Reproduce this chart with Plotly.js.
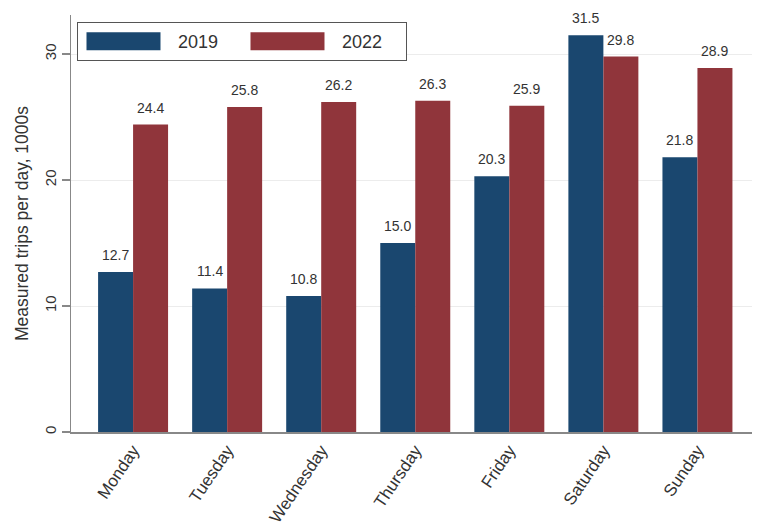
<!DOCTYPE html>
<html>
<head>
<meta charset="utf-8">
<script src="https://cdn.plot.ly/plotly-3.0.1.min.js"></script>
<style>html,body{margin:0;padding:0;background:#fff;}#chart{width:757px;height:529px;}</style>
</head>
<body>
<div id="chart"></div>
<script>
const days = ["Monday", "Tuesday", "Wednesday", "Thursday", "Friday", "Saturday", "Sunday"];
const trips2019 = [12.7, 11.4, 10.8, 15.0, 20.3, 31.5, 21.8];
const trips2022 = [24.4, 25.8, 26.2, 26.3, 25.9, 29.8, 28.9];
const seriesNames = ["2019", "2022"];
const yTicks = [0, 10, 20, 30];

const FONT = '"Liberation Sans", Arial, sans-serif';
const BLUE = '#1a476f';
const RED = '#90353b';

const traces = [
  {type: 'bar', name: seriesNames[0], x: days, y: trips2019, marker: {color: BLUE, line: {width: 0}}},
  {type: 'bar', name: seriesNames[1], x: days, y: trips2022, marker: {color: RED, line: {width: 0}}}
];

const annotations = [];
[[trips2019, -17.5], [trips2022, 17.5]].forEach(([vals, dx]) => {
  vals.forEach((v, i) => {
    annotations.push({
      x: days[i], y: v, xref: 'x', yref: 'y', text: v.toFixed(1), showarrow: false,
      xshift: dx, yshift: 17, yanchor: 'middle',
      font: {family: FONT, size: 14, color: '#333'}
    });
  });
});

const layout = {
  width: 757, height: 529,
  margin: {l: 71, r: 5, t: 15, b: 97, pad: 0},
  paper_bgcolor: '#fff', plot_bgcolor: '#fff',
  font: {family: FONT, color: '#333'},
  barmode: 'group', bargap: 0.256, bargroupgap: 0,
  xaxis: {
    type: 'category', range: [-0.66, 6.58], tickangle: -56, automargin: false,
    showline: true, linecolor: '#888', linewidth: 1.5, ticks: '', showgrid: false,
    tickfont: {family: FONT, size: 17, color: '#333'}, zeroline: false
  },
  yaxis: {
    range: [0, 33.1], tickvals: yTicks, ticktext: yTicks.map(String), tickangle: -90,
    ticks: 'outside', ticklen: 8, tickcolor: '#888', tickwidth: 1.5,
    showline: true, linecolor: '#888', linewidth: 1.5, automargin: false,
    showgrid: true, gridcolor: '#ececec', gridwidth: 1, zeroline: false,
    tickfont: {family: FONT, size: 15, color: '#333'},
    title: {text: 'Measured trips per day, 1000s', font: {family: FONT, size: 17.5, color: '#333'}, standoff: 8}
  },
  showlegend: true,
  legend: {
    orientation: 'h', x: 0.0088, y: 0.983, xanchor: 'left', yanchor: 'top',
    bordercolor: '#555', borderwidth: 1, bgcolor: '#fff',
    font: {family: FONT, size: 18, color: '#333'},
    itemwidth: 90, entrywidth: 59, entrywidthmode: 'pixels', traceorder: 'normal'
  },
  annotations: annotations
};

Plotly.newPlot('chart', traces, layout, {displayModeBar: false, staticPlot: true}).then(gd => {
  gd.querySelectorAll('.legend .legendpoints path').forEach(p => {
    p.setAttribute('d', 'M-41.5,-9H32.5V9H-41.5Z');
  });
});
</script>
</body>
</html>
